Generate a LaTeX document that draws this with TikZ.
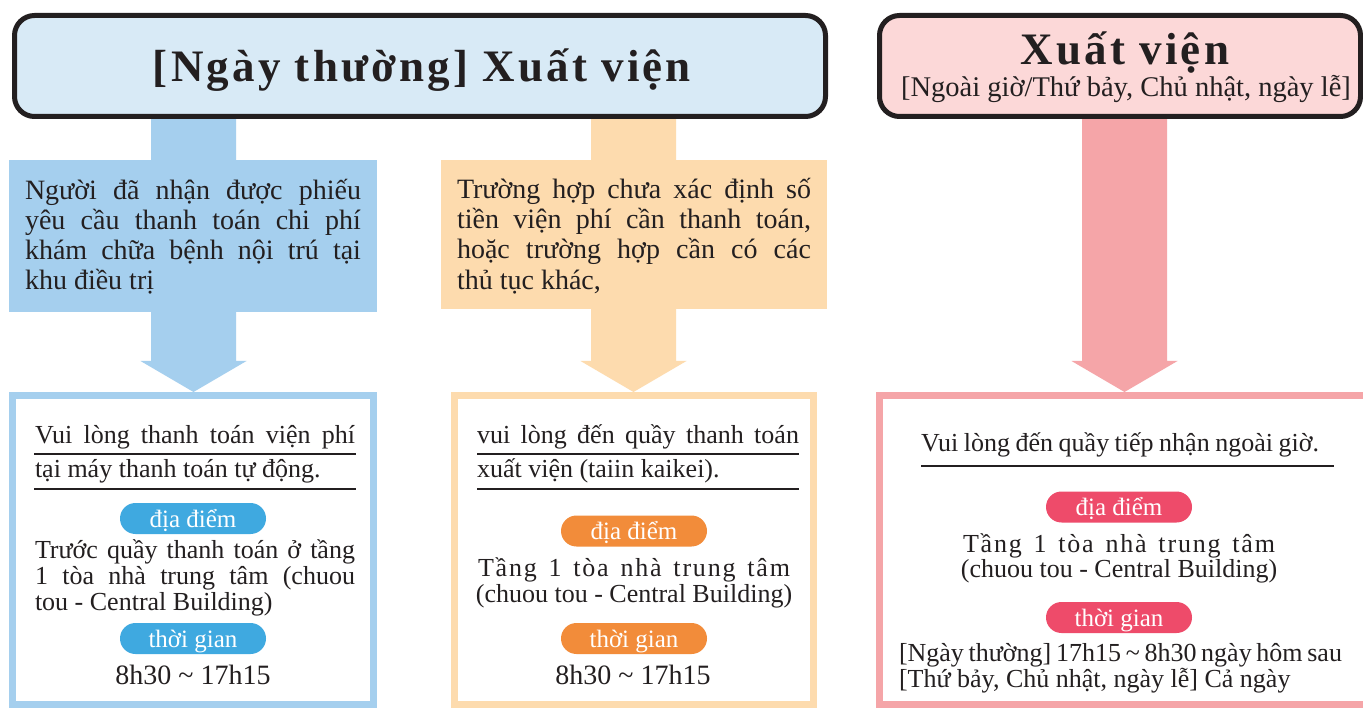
\documentclass[tikz,border=0pt]{standalone}
\usepackage{fontspec}
\setmainfont{Liberation Serif}
\newfontfamily\titlefam[LetterSpace=7]{Liberation Serif}
\newfontfamily\widefam[LetterSpace=7]{Liberation Serif}
\definecolor{ink}{HTML}{231F20}
\definecolor{titleblue}{HTML}{D8EAF6}
\definecolor{arrowblue}{HTML}{A5CFEE}
\definecolor{pillblue}{HTML}{3FA9E0}
\definecolor{arroworange}{HTML}{FDDBAE}
\definecolor{pillorange}{HTML}{F28C3A}
\definecolor{titlepink}{HTML}{FCD8D8}
\definecolor{arrowpink}{HTML}{F5A5A8}
\definecolor{pillpink}{HTML}{EE4B6A}
\newcommand{\bodyf}{\fontsize{26}{30}\selectfont}
\newcommand{\midf}{\fontsize{28}{30}\selectfont}
\newcommand{\pillf}{\fontsize{25}{30}\selectfont}
\newcommand{\timef}{\fontsize{28}{32}\selectfont}
\newcommand{\titlef}{\fontsize{45}{50}\selectfont\titlefam\bfseries}
\newcommand{\blockarrow}[3]{%
  \fill[#3] (#1-42.5,#2) -- (#1+42.5,#2) -- (#1+42.5,361) -- (#1+53,361)
    -- (#1,392) -- (#1-53,361) -- (#1-42.5,361) -- cycle;}
\begin{document}
\begin{tikzpicture}[x=1pt,y=-1pt,
  txt/.style={inner sep=0pt, outer sep=0pt, text=ink, anchor=base west, font=\bodyf},
  mtxt/.style={txt, font=\midf},
  ctxt/.style={txt, anchor=base},
  pill/.style={rounded corners=15.5pt, inner sep=0pt, minimum width=146pt,
    minimum height=31pt, text height=20pt, text depth=3pt, text=white, font=\pillf},
  uline/.style={draw=ink, line width=1.6pt},
  titlebox/.style={draw=ink, line width=5pt, rounded corners=20pt, inner sep=0pt},
  midbox/.style={inner sep=0pt, outer sep=0pt},
  framebox/.style={line width=7pt, fill=white, inner sep=0pt}]
\clip (0,0) rectangle (1363,708);
\fill[white] (0,0) rectangle (1363,708);
% block arrows
\blockarrow{193.5}{110}{arrowblue}
\blockarrow{633.5}{110}{arroworange}
\blockarrow{1124.5}{110}{arrowpink}
% title boxes
\node[titlebox, fill=titleblue, minimum width=811pt, minimum height=101pt] (t1) at (420,66) {};
\node[titlebox, fill=titlepink, minimum width=481pt, minimum height=101pt] (t2) at (1120,66) {};
\node[ctxt, font=\titlef] (t1txt) at (422,82) {[Ngày thường] Xuất viện};
\node[ctxt, font=\titlef] (t2txt) at (1125,65) {Xuất viện};
\node[ctxt, font=\fontsize{28.5}{30}\selectfont] (t2sub) at (1126,97) {[Ngoài giờ/Thứ bảy, Chủ nhật, ngày lễ]};
% middle boxes
\node[midbox, fill=arrowblue, minimum width=368pt, minimum height=152pt] (m1) at (193,236) {};
\node[midbox, fill=arroworange, minimum width=386pt, minimum height=149pt] (m2) at (634,234.5) {};
\node[mtxt] (m1a) at (25,200) {\makebox[336pt][s]{Người đã nhận được phiếu}};
\node[mtxt] (m1b) at (25,230) {\makebox[336pt][s]{yêu cầu thanh toán chi phí}};
\node[mtxt] (m1c) at (25,260) {\makebox[336pt][s]{khám chữa bệnh nội trú tại}};
\node[mtxt] (m1d) at (25,290) {khu điều trị};
\node[mtxt] (m2a) at (457,199) {\makebox[354pt][s]{Trường hợp chưa xác định số}};
\node[mtxt] (m2b) at (457,229) {\makebox[354pt][s]{tiền viện phí cần thanh toán,}};
\node[mtxt] (m2c) at (457,259) {\makebox[354pt][s]{hoặc trường hợp cần có các}};
\node[mtxt] (m2d) at (457,290) {thủ tục khác,};
% bottom frames
\node[framebox, draw=arrowblue, minimum width=361pt, minimum height=309pt] (b1) at (193,550) {};
\node[framebox, draw=arroworange, minimum width=359pt, minimum height=309pt] (b2) at (634,550) {};
\node[framebox, draw=arrowpink, minimum width=500.5pt, minimum height=309pt] (b3) at (1129.75,550) {};
% blue bottom content
\node[txt] (b1a) at (35,443) {\makebox[320pt][s]{Vui lòng thanh toán viện phí}};
\node[txt] (b1b) at (35,477) {tại máy thanh toán tự động.};
\coordinate (u1l) at (34,454); \coordinate (u1r) at (356,454);
\coordinate (u2l) at (34,489); \coordinate (u2r) at (356,489);
\draw[uline] (u1l) -- (u1r);
\draw[uline] (u2l) -- (u2r);
\node[pill, fill=pillblue] (p1) at (193,518.5) {địa điểm};
\node[txt] (b1c) at (35,558) {\makebox[320pt][s]{Trước quầy thanh toán ở tầng}};
\node[txt] (b1d) at (35,584) {\makebox[320pt][s]{1 tòa nhà trung tâm (chuou}};
\node[txt] (b1e) at (35,610) {tou - Central Building)};
\node[pill, fill=pillblue] (p2) at (193,638.5) {thời gian};
\node[ctxt, font=\timef] (b1f) at (193,684) {8h30 \textasciitilde\ 17h15};
% orange bottom content
\node[txt] (b2a) at (477,443) {\makebox[322pt][s]{vui lòng đến quầy thanh toán}};
\node[txt] (b2b) at (477,477) {xuất viện (taiin kaikei).};
\coordinate (u3l) at (477,454); \coordinate (u3r) at (799,454);
\coordinate (u4l) at (477,489); \coordinate (u4r) at (799,489);
\draw[uline] (u3l) -- (u3r);
\draw[uline] (u4l) -- (u4r);
\node[pill, fill=pillorange] (p3) at (634,531) {địa điểm};
\node[ctxt] (b2c) at (634,576) {\widefam\makebox[312pt][s]{Tầng 1 tòa nhà trung tâm}};
\node[ctxt] (b2d) at (634,602) {(chuou tou - Central Building)};
\node[pill, fill=pillorange] (p4) at (634,638.5) {thời gian};
\node[ctxt, font=\timef] (b2e) at (633,684) {8h30 \textasciitilde\ 17h15};
% pink bottom content
\node[txt] (b3a) at (921,451) {\makebox[398pt][s]{Vui lòng đến quầy tiếp nhận ngoài giờ.}};
\coordinate (u5l) at (921,466); \coordinate (u5r) at (1334,466);
\draw[uline] (u5l) -- (u5r);
\node[pill, fill=pillpink] (p5) at (1119,507) {địa điểm};
\node[ctxt] (b3b) at (1119,552) {\widefam\makebox[312pt][s]{Tầng 1 tòa nhà trung tâm}};
\node[ctxt] (b3c) at (1119,577) {(chuou tou - Central Building)};
\node[pill, fill=pillpink] (p6) at (1119,617.5) {thời gian};
\node[txt] (b3d) at (899,661) {\makebox[443pt][s]{[Ngày thường] 17h15 \textasciitilde\ 8h30 ngày hôm sau}};
\node[txt] (b3e) at (899,687) {[Thứ bảy, Chủ nhật, ngày lễ] Cả ngày};
\end{tikzpicture}
\end{document}
